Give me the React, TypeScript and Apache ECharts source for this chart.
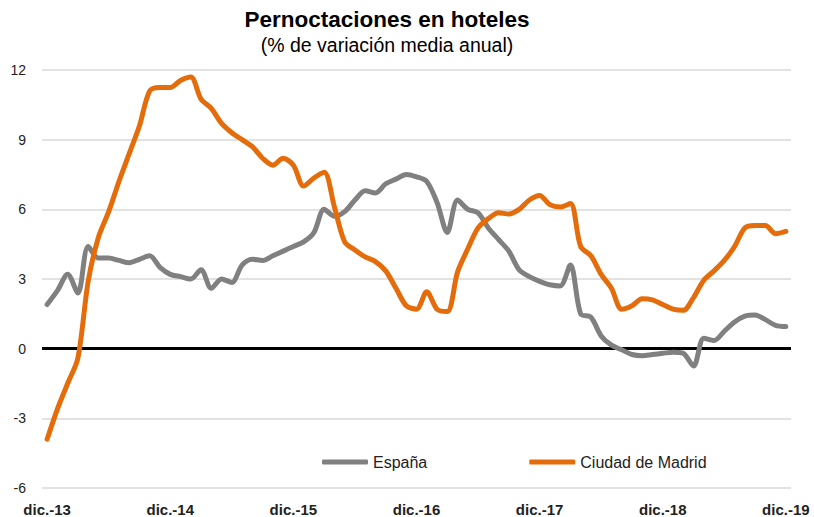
import React, { useEffect, useRef } from "react";
import * as echarts from "echarts";

const monthAbbr = ["ene.", "feb.", "mar.", "abr.", "may.", "jun.", "jul.", "ago.", "sep.", "oct.", "nov.", "dic."];
const categories: string[] = ["dic.-13"];
for (let y = 14; y <= 19; y++) {
  for (const m of monthAbbr) categories.push(`${m}-${y}`);
}

const espana = [
  1.9, 2.5, 3.2, 2.4, 4.4, 3.9, 3.9, 3.8, 3.7, 3.85, 4.0, 3.5,
  3.2, 3.1, 3.0, 3.4, 2.6, 3.0, 2.85, 3.6, 3.85, 3.8, 4.0, 4.2,
  4.4, 4.6, 5.0, 6.0, 5.7, 5.9, 6.4, 6.8, 6.7, 7.1, 7.3, 7.5,
  7.4, 7.2, 6.3, 5.0, 6.4, 6.0, 5.85, 5.2, 4.7, 4.2, 3.4, 3.1,
  2.9, 2.75, 2.7, 3.6, 1.5, 1.35, 0.55, 0.15, -0.05, -0.25, -0.3, -0.25,
  -0.2, -0.15, -0.2, -0.75, 0.45, 0.35, 0.75, 1.15, 1.4, 1.45, 1.25, 1.0,
  0.95,
];

const madrid = [
  -3.9, -2.6, -1.5, -0.4, 2.9, 4.8, 5.9, 7.2, 8.4, 9.6, 11.1, 11.25,
  11.25, 11.55, 11.7, 10.75, 10.35, 9.7, 9.3, 9.0, 8.7, 8.2, 7.9, 8.2,
  7.9, 7.0, 7.35, 7.6, 6.1, 4.6, 4.25, 3.95, 3.75, 3.35, 2.6, 1.85,
  1.7, 2.45, 1.7, 1.6, 3.3, 4.3, 5.2, 5.6, 5.85, 5.8, 6.0, 6.4,
  6.6, 6.2, 6.1, 6.25, 4.4, 4.0, 3.2, 2.6, 1.7, 1.85, 2.15, 2.1,
  1.9, 1.7, 1.65, 2.2, 2.95, 3.35, 3.8, 4.4, 5.2, 5.3, 5.3, 4.95,
  5.05,
];

const seriesNames = ["España", "Ciudad de Madrid"];
const title = "Pernoctaciones en hoteles";
const subtitle = "(% de variación media anual)";

const FONT = "'Liberation Sans', Arial, Helvetica, sans-serif";

export default function App() {
  const ref = useRef<HTMLDivElement>(null);
  useEffect(() => {
    if (!ref.current) return;
    const chart = echarts.init(ref.current, null, { renderer: "svg" });
    chart.setOption({
      animation: false,
      backgroundColor: "#ffffff",
      textStyle: { fontFamily: FONT },
      title: {
        text: title,
        subtext: subtitle,
        left: 382,
        textAlign: "center",
        top: 3,
        itemGap: 4,
        padding: 5,
        textStyle: { fontFamily: FONT, fontSize: 22.5, fontWeight: "bold", color: "#000" },
        subtextStyle: { fontFamily: FONT, fontSize: 19.5, color: "#000" },
      },
      legend: {
        left: 317,
        top: 449,
        itemWidth: 46,
        itemHeight: 5,
        itemGap: 102,
        icon: "roundRect",
        textStyle: { fontFamily: FONT, fontSize: 16, color: "#222" },
        data: seriesNames,
      },
      grid: { left: 42, right: 23, top: 70, bottom: 27, containLabel: false },
      xAxis: {
        type: "category",
        data: categories,
        boundaryGap: true,
        axisLine: { show: false },
        axisTick: { show: false },
        axisLabel: {
          interval: (i: number) => i % 12 === 0,
          margin: 14,
          fontFamily: FONT,
          fontSize: 15,
          fontWeight: "bold",
          color: "#222",
        },
        splitLine: { show: false },
      },
      yAxis: {
        type: "value",
        min: -6,
        max: 12,
        interval: 3,
        axisLine: { show: false },
        axisTick: { show: false },
        axisLabel: { margin: 16, fontFamily: FONT, fontSize: 14, color: "#222" },
        splitLine: { lineStyle: { color: "#d9d9d9", width: 1.5 } },
      },
      series: [
        {
          name: seriesNames[0],
          type: "line",
          data: espana,
          smooth: 0.3,
          symbol: "none",
          lineStyle: { color: "#808080", width: 5, cap: "round", join: "round" },
          itemStyle: { color: "#808080" },
          z: 3,
          markLine: {
            silent: true,
            symbol: ["none", "none"],
            label: { show: false },
            lineStyle: { color: "#000", width: 3, type: "solid" },
            data: [{ yAxis: 0 }],
            z: 2,
          },
        },
        {
          name: seriesNames[1],
          type: "line",
          data: madrid,
          smooth: 0.3,
          symbol: "none",
          lineStyle: { color: "#E46C0A", width: 5, cap: "round", join: "round" },
          itemStyle: { color: "#E46C0A" },
          z: 4,
        },
      ],
    });
    return () => chart.dispose();
  }, []);
  return <div ref={ref} style={{ width: 814, height: 517, position: "absolute", left: 0, top: 0 }} />;
}
